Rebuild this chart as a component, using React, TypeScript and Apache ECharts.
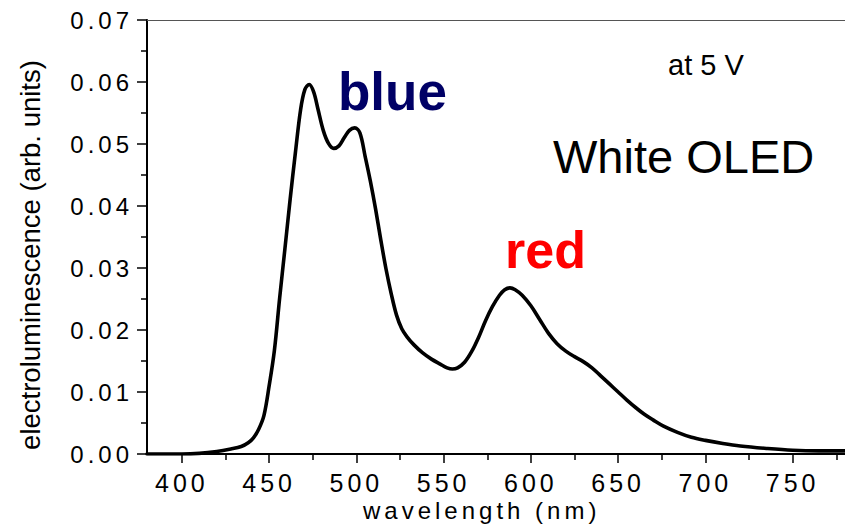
import React, { useEffect, useRef } from "react";
import * as echarts from "echarts";

const wavelength = [
  380, 400, 410, 420, 428, 434, 438, 441, 444, 447, 450, 453, 456, 459, 462, 465, 468, 470.5, 473, 475.5,
  478, 481, 484, 487, 490, 493, 496, 499, 502, 505, 508, 511, 514, 517, 520, 523, 526, 529, 533, 538, 543,
  548, 552, 555, 558, 562, 566, 570, 574, 578, 582, 585, 588, 591, 595, 600, 605, 610, 615, 620, 625, 630,
  635, 640, 645, 650, 655, 660, 665, 670, 676, 684, 692, 700, 710, 720, 735, 750, 765, 780,
];
const intensity = [
  0, 0, 0.0001, 0.0004, 0.0008, 0.0012, 0.0018, 0.0026, 0.004, 0.0062, 0.011, 0.0167, 0.0251, 0.033,
  0.041, 0.0485, 0.0555, 0.0588, 0.0596, 0.0584, 0.0556, 0.0522, 0.0501, 0.0493, 0.0497, 0.051, 0.0522,
  0.0526, 0.0518, 0.048, 0.044, 0.0395, 0.0345, 0.0298, 0.0258, 0.0224, 0.0202, 0.0189, 0.0176, 0.0163,
  0.0153, 0.0145, 0.0139, 0.0137, 0.0139, 0.0148, 0.0165, 0.0188, 0.0215, 0.0238, 0.0256, 0.0265, 0.0268,
  0.0265, 0.0256, 0.0239, 0.0217, 0.0195, 0.0178, 0.0166, 0.0157, 0.0149, 0.0139, 0.0126, 0.0113, 0.01,
  0.0087, 0.0075, 0.0064, 0.0055, 0.0045, 0.0035, 0.0027, 0.0022, 0.0017, 0.0013, 0.0009, 0.0006, 0.0005,
  0.0005,
];
const xMajorTicks = [400, 450, 500, 550, 600, 650, 700, 750];
const xMinorTicks = [425, 475, 525, 575, 625, 675, 725, 775];
const xRange = [380, 780];
const yRange = [0, 0.07];
const yStep = 0.01;

export default function App() {
  const ref = useRef<HTMLDivElement>(null);
  useEffect(() => {
    const chart = echarts.init(ref.current!, null, { renderer: "svg" });
    chart.setOption({
      animation: false,
      backgroundColor: "#fff",
      grid: { left: 147, right: 0, top: 20, bottom: 74 },
      xAxis: [
        {
          type: "value",
          min: xRange[0],
          max: xRange[1],
          position: "bottom",
          axisLine: { show: true, onZero: false, lineStyle: { color: "#000", width: 2 } },
          axisTick: { show: true, customValues: xMajorTicks, length: 9, lineStyle: { color: "#000", width: 1.5 } },
          axisLabel: { show: true, customValues: xMajorTicks, fontSize: 25, fontFamily: "Arial", color: "#000", margin: 16 },
          splitLine: { show: false },
        },
        {
          type: "value",
          min: xRange[0],
          max: xRange[1],
          position: "bottom",
          axisLine: { show: false },
          axisTick: { show: true, customValues: xMinorTicks, length: 6, lineStyle: { color: "#000", width: 1.5 } },
          axisLabel: { show: false },
          splitLine: { show: false },
        },
        {
          type: "value",
          min: xRange[0],
          max: xRange[1],
          position: "top",
          axisLine: { show: true, onZero: false, lineStyle: { color: "#555", width: 1 } },
          axisTick: { show: false },
          axisLabel: { show: false },
          splitLine: { show: false },
        },
      ],
      yAxis: {
        type: "value",
        min: yRange[0],
        max: yRange[1],
        interval: yStep,
        axisLine: { show: true, onZero: false, lineStyle: { color: "#000", width: 2 } },
        axisTick: { show: true, length: 10, lineStyle: { color: "#000", width: 1.5 } },
        minorTick: { show: true, splitNumber: 2, length: 6, lineStyle: { color: "#000", width: 1.5 } },
        axisLabel: {
          fontSize: 24,
          fontFamily: "Arial",
          color: "#000",
          margin: 14,
          formatter: (v: number) => v.toFixed(2),
        },
        splitLine: { show: false },
        minorSplitLine: { show: false },
      },
      series: [
        {
          type: "line",
          xAxisIndex: 0,
          yAxisIndex: 0,
          data: wavelength.map((w, i) => [w, intensity[i]]),
          symbol: "none",
          showSymbol: false,
          smooth: 0.35,
          lineStyle: { color: "#000", width: 3.6, join: "round", cap: "round" },
          silent: true,
        },
      ],
      graphic: [
        {
          type: "text",
          x: 30.5,
          y: 255,
          rotation: Math.PI / 2,
          style: {
            text: "electroluminescence (arb. units)",
            fontSize: 27.5,
            fontFamily: "Liberation Sans",
            fill: "#000",
            align: "center",
            verticalAlign: "middle",
            textAlign: "center",
            textVerticalAlign: "middle",
          },
        },
        {
          type: "text",
          x: 363,
          y: 510,
          style: {
            text: "wavelength (nm)",
            fontSize: 24,
            fontFamily: "Arial",
            fill: "#000",
            align: "left",
            verticalAlign: "middle",
            textAlign: "left",
            textVerticalAlign: "middle",
          },
        },
        {
          type: "text",
          x: 338,
          y: 91.6,
          style: {
            text: "blue",
            fontSize: 53,
            fontWeight: "bold",
            fontFamily: "Liberation Sans",
            fill: "#000066",
            align: "left",
            verticalAlign: "middle",
            textAlign: "left",
            textVerticalAlign: "middle",
          },
        },
        {
          type: "text",
          x: 505,
          y: 250,
          style: {
            text: "red",
            fontSize: 52,
            fontWeight: "bold",
            fontFamily: "Liberation Sans",
            fill: "#ff0000",
            align: "left",
            verticalAlign: "middle",
            textAlign: "left",
            textVerticalAlign: "middle",
          },
        },
        {
          type: "text",
          x: 553,
          y: 156.5,
          style: {
            text: "White OLED",
            fontSize: 47,
            fontFamily: "Liberation Sans",
            fill: "#000",
            align: "left",
            verticalAlign: "middle",
            textAlign: "left",
            textVerticalAlign: "middle",
          },
        },
        {
          type: "text",
          x: 668,
          y: 65.3,
          style: {
            text: "at 5 V",
            fontSize: 29,
            fontFamily: "Liberation Sans",
            fill: "#000",
            align: "left",
            verticalAlign: "middle",
            textAlign: "left",
            textVerticalAlign: "middle",
          },
        },
      ],
    });
    return () => chart.dispose();
  }, []);
  return (
    <>
      <style>{`text[style*="Arial"]{letter-spacing:4px}`}</style>
      <div
        ref={ref}
        style={{ position: "fixed", left: 0, top: 0, width: 845, height: 528, background: "#fff" }}
      />
    </>
  );
}
